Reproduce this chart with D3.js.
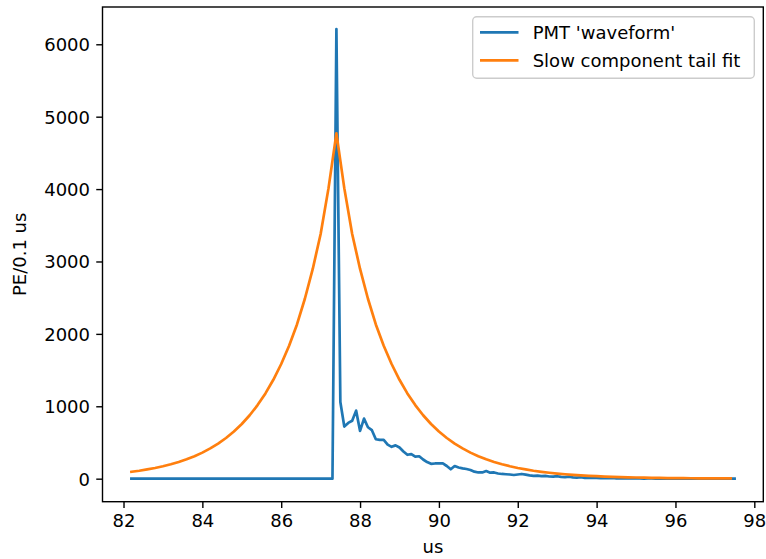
<!DOCTYPE html>
<html>
<head>
<meta charset="utf-8">
<script src="https://cdn.jsdelivr.net/npm/d3@7"></script>
<style>
  body { margin: 0; background: #fff; }
  svg { display: block; font-family: "DejaVu Sans", sans-serif; }
  .tick text { font-size: 18px; fill: #000; }
</style>
</head>
<body>
<svg id="chart" width="766" height="559"></svg>
<script>
// PMT histogram: bins of 0.1 us starting at 82.2 us
const pmtStart = 82.2;
const pmtStep = 0.1;
const pmtValues = [
  0, 0, 0, 0, 0, 0, 0, 0, 0, 0, 0, 0, 0, 0, 0, 0, 0, 0, 0, 0, 0, 0, 0, 0, 0, 0,
  0, 0, 0, 0, 0, 0, 0, 0, 0, 0, 0, 0, 0, 0, 0, 0, 0, 0, 0, 0, 0, 0, 0, 0, 0, 0,
  6210, 1060, 720, 770, 800, 940, 660, 830, 710, 670, 545, 535, 535, 470, 440, 460,
  430, 375, 330, 340, 305, 310, 265, 230, 205, 210, 212, 210, 175, 130, 175, 155,
  142, 134, 120, 97, 86, 86, 106, 83, 86, 72, 65, 61, 58, 51, 58, 65,
  55, 45, 40, 42, 35, 38, 30, 28, 34, 25, 22, 28, 18, 15, 20, 12, 14, 10,
  12, 8, 10, 6, 9, 5, 7, 4, 6, 3, 5, 4, 2, 5, 3, 2, 4, 1, 3, 2,
  1, 3, 1, 2, 0, 2, 1, 1, 2, 0, 1, 1, 0, 1, 0, 1
];

// tail fit, sampled every 0.2 us from 82.2 us
const fitStart = 82.2;
const fitStep = 0.2;
const fitValues = [
  95, 110, 128, 148, 172, 199, 231, 268, 311, 360, 418, 484, 562, 651, 755, 876,
  1016, 1178, 1366, 1584, 1837, 2130, 2485, 2897, 3380, 4013, 4770,
  4013, 3380, 2897, 2485, 2130, 1837, 1584, 1366, 1178, 1016, 876, 755, 651, 562,
  484, 418, 360, 311, 268, 231, 199, 172, 148, 128, 110, 95, 82, 71, 61, 53, 45,
  39, 34, 29, 25, 22, 19, 16, 14, 12, 10, 9, 8, 7, 6, 5, 4, 4, 3, 3
];

const xTicks = [82, 84, 86, 88, 90, 92, 94, 96, 98];
const yTicks = [0, 1000, 2000, 3000, 4000, 5000, 6000];
const legendLabels = ["PMT 'waveform'", "Slow component tail fit"];
const colors = ["#1f77b4", "#ff7f0e"];

const plot = { left: 102.5, right: 763.3, top: 7, bottom: 501.7 };

const svg = d3.select("#chart");

const x = d3.scaleLinear().domain([81.467, 98.228]).range([plot.left, plot.right]);
const y = d3.scaleLinear().domain([-318, 6515]).range([plot.bottom, plot.top]);

const pmt = pmtValues.map((v, i) => [pmtStart + i * pmtStep, v]);
const fit = fitValues.map((v, i) => [fitStart + i * fitStep, v]);

const line = d3.line().x(d => x(d[0])).y(d => y(d[1]));

[pmt, fit].forEach((data, i) => {
  svg.append("path")
    .datum(data)
    .attr("fill", "none")
    .attr("stroke", colors[i])
    .attr("stroke-width", 2.7)
    .attr("stroke-linejoin", "round")
    .attr("stroke-linecap", "square")
    .attr("d", line);
});

// axes
const xAxis = svg.append("g")
  .attr("transform", `translate(0,${plot.bottom})`)
  .call(d3.axisBottom(x).tickValues(xTicks).tickFormat(d3.format("d"))
    .tickSize(6.25).tickPadding(6.25).tickSizeOuter(0));
const yAxis = svg.append("g")
  .attr("transform", `translate(${plot.left},0)`)
  .call(d3.axisLeft(y).tickValues(yTicks).tickFormat(d3.format("d"))
    .tickSize(6.25).tickPadding(6.25).tickSizeOuter(0));

[xAxis, yAxis].forEach(g => {
  g.select(".domain").remove();
  g.selectAll(".tick line").attr("stroke", "#000").attr("stroke-width", 1.4);
  g.selectAll(".tick text").attr("font-family", "DejaVu Sans");
});
xAxis.selectAll(".tick text").attr("dy", "0.72em");
yAxis.selectAll(".tick text").attr("dy", "0.36em");

// spines
svg.append("rect")
  .attr("x", plot.left).attr("y", plot.top)
  .attr("width", plot.right - plot.left).attr("height", plot.bottom - plot.top)
  .attr("fill", "none")
  .attr("stroke", "#000")
  .attr("stroke-width", 1.4);

// axis labels
svg.append("text")
  .attr("x", (plot.left + plot.right) / 2).attr("y", 553)
  .attr("text-anchor", "middle")
  .attr("font-size", 18)
  .text("us");
svg.append("text")
  .attr("transform", `translate(26,${(plot.top + plot.bottom) / 2}) rotate(-90)`)
  .attr("text-anchor", "middle")
  .attr("font-size", 18)
  .text("PE/0.1 us");

// legend
const legend = svg.append("g");
legend.append("rect")
  .attr("x", 472.7).attr("y", 16.7)
  .attr("width", 281.6).attr("height", 61.6)
  .attr("rx", 4)
  .attr("fill", "#fff").attr("fill-opacity", 0.8)
  .attr("stroke", "#cccccc").attr("stroke-width", 1.4);

legendLabels.forEach((label, i) => {
  const ly = 32.3 + i * 28;
  legend.append("line")
    .attr("x1", 480).attr("x2", 518.5)
    .attr("y1", ly).attr("y2", ly)
    .attr("stroke", colors[i]).attr("stroke-width", 2.7);
  legend.append("text")
    .attr("x", 532.7).attr("y", ly + 6.6)
    .attr("font-size", 18)
    .text(label);
});
</script>
</body>
</html>
